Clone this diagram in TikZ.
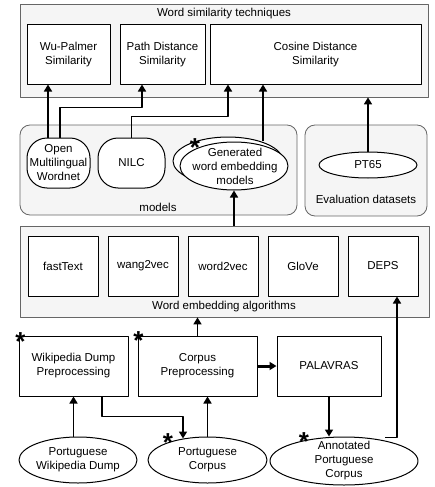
\documentclass[tikz,border=0pt]{standalone}
\usepackage{fontspec}
\setmainfont{Liberation Sans}
\usetikzlibrary{arrows.meta,shapes.geometric,calc}

\begin{document}
\begin{tikzpicture}[x=1pt,y=-1pt,line join=round,>={Triangle[length=7pt,width=8pt]},
	font=\fontsize{11.5}{14}\selectfont,
	group/.style={draw=black!60,fill=black!4,line width=.8pt},
	box/.style={draw,fill=white,line width=1pt,align=center,inner sep=0pt},
	oval/.style={draw,fill=white,ellipse,line width=1pt,inner sep=0pt},
	arr/.style={->,line width=1.6pt},
	star/.style={font=\bfseries\fontsize{26}{26}\selectfont,inner sep=0pt,anchor=north}]
	\useasboundingbox (0,0) rectangle (435,487);
	% containers
	\node[group,minimum width=408pt,minimum height=93pt] (simtech) at (224,50.5) {};
	\node (simtechlbl) at (224,14) {Word similarity techniques};
	\node[group,rounded corners=10pt,minimum width=277pt,minimum height=90pt] (models) at (158.5,170) {};
	\node (modelslbl) at (158,207) {models};
	\node[group,rounded corners=10pt,minimum width=122pt,minimum height=91pt] (evalset) at (366,170.5) {};
	\node (evalsetlbl) at (366,199) {Evaluation datasets};
	\node[group,minimum width=409pt,minimum height=91pt] (alg) at (224.5,271.5) {};
	\node (alglbl) at (224,307) {Word embedding algorithms};
	% similarity techniques
	\node[box,minimum width=83pt,minimum height=59pt] (wp) at (68.5,54.5) {Wu-Palmer\\Similarity};
	\node[box,minimum width=85pt,minimum height=59pt] (pd) at (162.5,54.5) {Path Distance\\Similarity};
	\node[box,minimum width=211pt,minimum height=59pt] (cd) at (315.5,54.5) {Cosine Distance\\Similarity};
	% models
	\node[box,rounded corners=20pt,minimum width=63pt,minimum height=50pt] (omw) at (58.5,163) {Open\\Multilingual\\Wordnet};
	\node[box,rounded corners=20pt,minimum width=67pt,minimum height=50pt] (nilc) at (131.5,163) {NILC};
	\node[oval,minimum width=110pt,minimum height=48pt] (genback) at (228,161) {};
	\node[oval,minimum width=108pt,minimum height=48pt,
		label={[align=center,xshift=1pt]center:Generated\\word embedding\\models}] (gen) at (234,166) {};
	\node[oval,minimum width=98pt,minimum height=26pt,label=center:PT65] (pt65) at (368,165) {};
	% algorithms
	\foreach \nm/\txt/\x in {fasttext/fastText/63,wangvec/wang2vec/143,wordvec/word2vec/223,glove/GloVe/303,deps/DEPS/383}
		\node[box,minimum width=70pt,minimum height=60pt] (\nm) at (\x,266) {\txt};
	% preprocessing
	\node[box,minimum width=109pt,minimum height=60pt] (wdp) at (73.5,366) {Wikipedia Dump\\Preprocessing};
	\node[box,minimum width=119pt,minimum height=60pt] (cp) at (197.5,366) {Corpus\\Preprocessing};
	\node[box,minimum width=104pt,minimum height=60pt] (pal) at (329,366) {PALAVRAS};
	% corpora
	\node[oval,minimum width=118pt,minimum height=46pt,
		label={[align=center]center:Portuguese\\Wikipedia Dump}] (pwd) at (78,460) {};
	\node[oval,minimum width=119pt,minimum height=46pt,
		label={[align=center]center:Portuguese\\Corpus}] (pc) at (207.5,460) {};
	\node[oval,minimum width=148pt,minimum height=48pt,
		label={[align=center]center:Annotated\\Portuguese\\Corpus}] (apc) at (344,461) {};
	% marks
	\node[star] (wdpstar) at ($(wdp.north west)+(2,-3)$) {*};
	\node[star] (cpstar) at ($(cp.north west)+(1,-4)$) {*};
	\node[star] (pcstar) at ($(pc.north)+(-39.5,-3)$) {*};
	\node[star] (apcstar) at ($(apc.north)+(-40,-4)$) {*};
	\node[star] (genstar) at ($(gen.north)+(-39,-3)$) {*};
	% connectors
	\draw[arr] ($(omw.north)+(-10.5,0)$) -- ($(wp.south)+(-20.5,0)$);
	\draw[arr] ($(omw.north)+(1.5,0)$) |- ($(pd.south)+(-20.5,23)$) -- ($(pd.south)+(-20.5,0)$);
	\draw[arr] (nilc.north) |- ($(cd.south)+(-87.5,32)$) -- ($(cd.south)+(-87.5,0)$);
	\draw[arr] ($(genback.north)+(35,4)$) -- ($(cd.south)+(-52.5,0)$);
	\draw[arr] (pt65.north) -- (pt65.north |- simtech.south);
	\draw[arr] (gen.south |- alg.north) -- (gen.south);
	\draw[arr] (cp.north) -- (cp.north |- alg.south);
	\draw[arr] ($(apc.north)+(41,1)$) -| ($(deps.south)+(14,0)$);
	\draw[arr] (pwd.north -| wdp.south) -- (wdp.south);
	\draw[arr] ($(wdp.south)+(28.5,0)$) |- ($(pc.north)+(-24.5,-20)$) -- ($(pc.north)+(-24.5,2)$);
	\draw[arr] (pc.north) -- (pc.north |- cp.south);
	\draw[arr,line width=3pt] (cp.east) -- (pal.west);
	\draw[arr] (pal.south) -- (pal.south |- apc.north);
\end{tikzpicture}
\end{document}
